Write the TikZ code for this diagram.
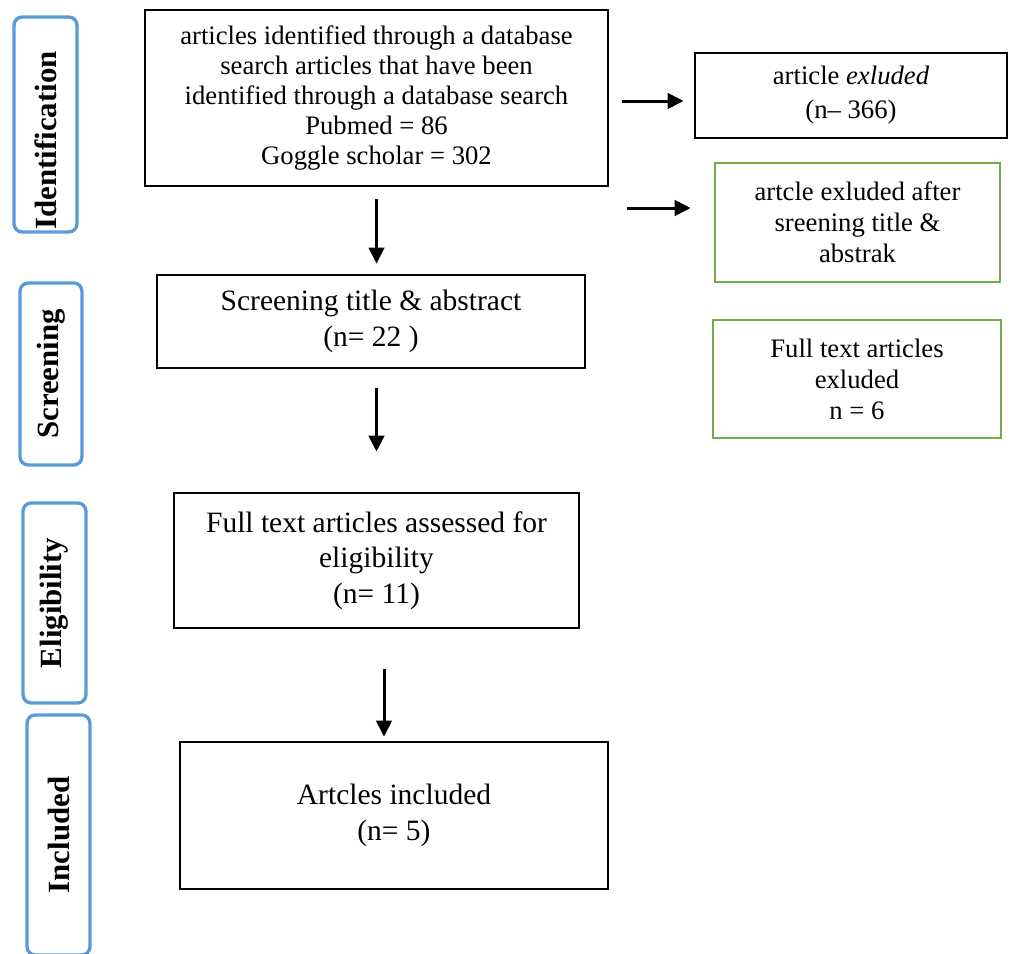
\documentclass[tikz,border=0pt]{standalone}
\usepackage{fontspec}
\setmainfont{Liberation Serif}
\usepackage{xcolor}
\usetikzlibrary{arrows.meta, positioning, calc}

\definecolor{stageblue}{HTML}{5B9BD5}
\definecolor{exgreen}{HTML}{70AD47}

\tikzset{
  box/.style={draw, line width=1.7pt, align=center, inner sep=2pt,
    font=\fontsize{17.7}{21.3}\selectfont},
  topbox/.style={box, font=\fontsize{16}{18}\selectfont},
  exbox/.style={box, font=\fontsize{16}{20.4}\selectfont},
  greenbox/.style={box, draw=exgreen, line width=1.7pt, font=\fontsize{16}{18.6}\selectfont},
  stage/.style={draw=stageblue, line width=2pt, rounded corners=5pt, rotate=90,
    inner sep=0pt, font=\bfseries\fontsize{18.5}{20}\selectfont},
  arr/.style={-{Triangle[length=9.6pt, width=9.3pt]}, line width=1.8pt}
}

\begin{document}
\begin{tikzpicture}[x=0.6pt, y=-0.6pt]
    \useasboundingbox (0,0) rectangle (1011,953);
    \clip (0,0) rectangle (1011,953);

    % stages on the left
    \node[stage, minimum width=129pt, minimum height=37.8pt] (ident) at (45.5,124.5) {Identification\hspace*{19pt}};
    \node[stage, minimum width=109.2pt, minimum height=37.2pt] (screening) at (51,374) {Screening};
    \node[stage, minimum width=120pt, minimum height=37.8pt] (eligibility) at (54.5,603) {Eligibility};
    \node[stage, minimum width=144pt, minimum height=37.8pt] (included) at (58.5,835) {Included};

    % main flow
    \node[topbox, minimum width=277.8pt, minimum height=105.6pt] (search) at (376.5,98)
        {\raisebox{-3pt}{\parbox{270pt}{\centering articles identified through a database\\ search articles that have been\\ identified through a database search\\ Pubmed = 86\\ Goggle scholar = 302}}};
    \node[box, minimum width=256.8pt, minimum height=55.8pt] (screen) at (371,321.5)
        {Screening title \& abstract\\ (n= 22 )};
    \node[box, minimum width=243pt, minimum height=81pt] (elig) at (376.5,560.5)
        {Full text articles assessed for\\ eligibility\\ (n= 11)};
    \node[box, minimum width=256.8pt, minimum height=88.2pt] (incl) at (394,815.5)
        {Artcles included\\ (n= 5)};

    % excluded
    \node[exbox, minimum width=187.2pt, minimum height=51pt] (excl) at (851,95.5)
        {article \textit{exluded}\\ (n– 366)};
    \node[greenbox, minimum width=171pt, minimum height=71.4pt] (exscreen) at (857.5,222.5)
        {artcle exluded after\\ sreening title \&\\ abstrak};
    \node[greenbox, minimum width=172.8pt, minimum height=70.8pt] (exfull) at (857,379)
        {Full text articles\\ exluded\\ n = 6};

    % arrows
    \draw[arr, shorten <=7.2pt, shorten >=6pt] (search.south) -- (search.south |- screen.north);
    \draw[arr, shorten <=11.4pt, shorten >=24pt] (screen.south -| elig.north) -- (elig.north);
    \draw[arr, shorten <=24pt, shorten >=2.4pt] ([xshift=4.5pt]elig.south) -- ([xshift=4.5pt]elig.south |- incl.north);
    \draw[arr, shorten <=7.8pt, shorten >=6pt] ([yshift=-1.8pt]search.east) -- ([yshift=-1.8pt]search.east -| excl.west);
    \draw[arr, shorten <=10.8pt, shorten >=13.8pt] ([yshift=8.7pt]exscreen.west -| search.east) -- ([yshift=8.7pt]exscreen.west);
\end{tikzpicture}
\end{document}
